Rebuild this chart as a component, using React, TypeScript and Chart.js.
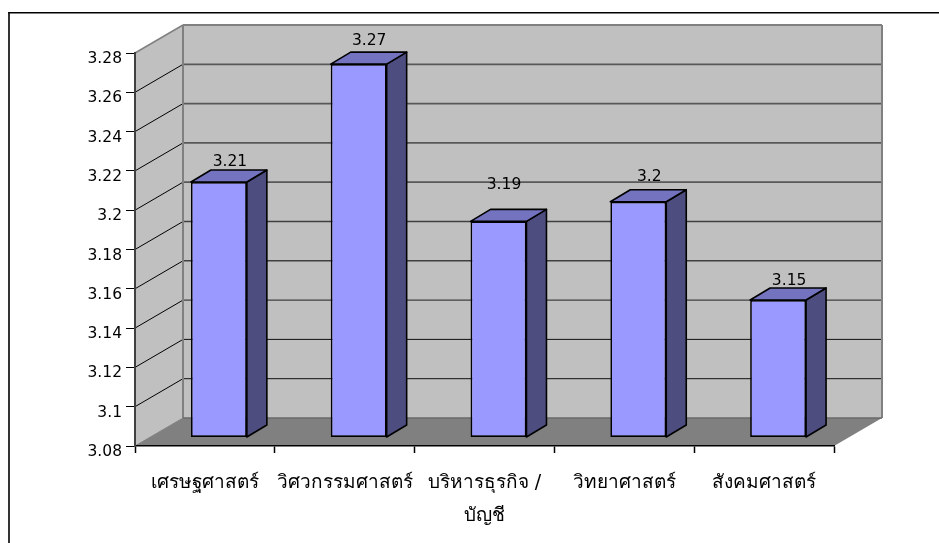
import React, { useEffect, useRef } from "react";
import { Chart, registerables } from "chart.js";

Chart.register(...registerables);

const categories: (string | string[])[] = [
  "เศรษฐศาสตร์",
  "วิศวกรรมศาสตร์",
  ["บริหารธุรกิจ /", "บัญชี"],
  "วิทยาศาสตร์",
  "สังคมศาสตร์",
];
const values = [3.21, 3.27, 3.19, 3.2, 3.15];
const yTicks = [3.08, 3.1, 3.12, 3.14, 3.16, 3.18, 3.2, 3.22, 3.24, 3.26, 3.28];

const labelShiftX = [25, 24.5, 19.5, 25, 25];
const labelShiftY = [-29, -32, -45, -33, -27];

const WALL_DX = 48;
const WALL_DY = 28;
const BAR_SHIFT_X = 14;
const BAR_SHIFT_Y = 8.5;
const BAR_DX = 20;
const BAR_DY = 12;
const FONT = "'DejaVu Sans', 'Liberation Sans', sans-serif";

function poly(ctx: CanvasRenderingContext2D, pts: number[][], fill?: string, stroke?: string, lw = 1) {
  ctx.beginPath();
  pts.forEach(([x, y], i) => (i ? ctx.lineTo(x, y) : ctx.moveTo(x, y)));
  ctx.closePath();
  if (fill) {
    ctx.fillStyle = fill;
    ctx.fill();
  }
  if (stroke) {
    ctx.strokeStyle = stroke;
    ctx.lineWidth = lw;
    ctx.lineJoin = "round";
    ctx.stroke();
  }
}

function line(ctx: CanvasRenderingContext2D, x1: number, y1: number, x2: number, y2: number, color: string, lw: number) {
  ctx.beginPath();
  ctx.moveTo(x1, y1);
  ctx.lineTo(x2, y2);
  ctx.strokeStyle = color;
  ctx.lineWidth = lw;
  ctx.stroke();
}

const box3d = {
  id: "box3d",
  beforeDraw(chart: any) {
    const { ctx, chartArea: a, scales } = chart;
    const { left: l, right: r, top: t, bottom: b } = a;
    ctx.save();
    // outer frame
    line(ctx, 8.3, 12.8, 939, 12.8, "#000", 1.6);
    line(ctx, 9, 12, 9, 543, "#000", 1.6);
    // left wall
    poly(ctx, [[l, t], [l + WALL_DX, t - WALL_DY], [l + WALL_DX, b - WALL_DY], [l, b]], "#C0C0C0");
    // back wall
    poly(ctx, [[l + WALL_DX, t - WALL_DY], [r + WALL_DX, t - WALL_DY], [r + WALL_DX, b - WALL_DY], [l + WALL_DX, b - WALL_DY]], "#C0C0C0");
    // floor
    poly(ctx, [[l, b], [r, b], [r + WALL_DX, b - WALL_DY], [l + WALL_DX, b - WALL_DY]], "#808080");
    // gridlines
    yTicks.forEach((v, i) => {
      const y = scales.y.getPixelForValue(v);
      if (i > 0 && i < yTicks.length - 1) {
        const heavy = i >= 6;
        const mid = i >= 3 && i < 6;
        line(ctx, l, y, l + WALL_DX, y - WALL_DY, "#000", 1);
        line(
          ctx,
          l + WALL_DX,
          y - WALL_DY,
          r + WALL_DX,
          y - WALL_DY,
          heavy ? "#585858" : mid ? "#404040" : "#101010",
          heavy ? 1.8 : mid ? 1.4 : 1
        );
      }
    });
    // wall edges
    const edge = "#808080";
    line(ctx, l, t, l + WALL_DX, t - WALL_DY, edge, 1.5);
    line(ctx, l + WALL_DX, t - WALL_DY, r + WALL_DX, t - WALL_DY, edge, 2);
    line(ctx, l + WALL_DX, t - WALL_DY, l + WALL_DX, b - WALL_DY, edge, 2);
    line(ctx, r + WALL_DX, t - WALL_DY, r + WALL_DX, b - WALL_DY, edge, 2);
    line(ctx, l + WALL_DX, b - WALL_DY, r + WALL_DX, b - WALL_DY, "#6a6a6a", 1.5);
    line(ctx, l, b, l + WALL_DX, b - WALL_DY, edge, 1);
    ctx.restore();
  },
  beforeDatasetsDraw(chart: any) {
    const { ctx } = chart;
    ctx.save();
    ctx.translate(BAR_SHIFT_X, -BAR_SHIFT_Y);
    chart.getDatasetMeta(0).data.forEach((el: any) => {
      const x1 = el.x - el.width / 2;
      const x2 = el.x + el.width / 2;
      poly(ctx, [[x2, el.y], [x2 + BAR_DX, el.y - BAR_DY], [x2 + BAR_DX, el.base - BAR_DY], [x2, el.base]], "#4D4D80", "#000", 1.6);
      poly(ctx, [[x1, el.y], [x1 + BAR_DX, el.y - BAR_DY], [x2 + BAR_DX, el.y - BAR_DY], [x2, el.y]], "#7373BF", "#000", 1.6);
    });
  },
  afterDatasetsDraw(chart: any) {
    const { ctx } = chart;
    ctx.restore();
    ctx.save();
    ctx.font = `15.5px ${FONT}`;
    ctx.fillStyle = "#000";
    ctx.textAlign = "center";
    ctx.textBaseline = "middle";
    chart.getDatasetMeta(0).data.forEach((el: any, i: number) => {
      ctx.fillText(String(values[i]), el.x + labelShiftX[i], el.y + labelShiftY[i]);
    });
    ctx.restore();
  },
};

export default function App() {
  const ref = useRef<HTMLCanvasElement>(null);
  useEffect(() => {
    const chart = new Chart(ref.current!, {
      type: "bar",
      data: {
        labels: categories as any,
        datasets: [
          {
            data: values,
            base: 3.08,
            backgroundColor: "#9999FF",
            borderColor: "#000",
            borderWidth: 1.7,
            borderSkipped: false,
            barPercentage: 0.4,
            categoryPercentage: 1,
            clip: false as any,
          },
        ],
      },
      options: {
        responsive: false,
        animation: false,
        devicePixelRatio: 1,
        layout: { padding: { left: 0, right: 105, top: 53, bottom: 0 } },
        plugins: { legend: { display: false }, tooltip: { enabled: false } },
        scales: {
          x: {
            offset: true,
            afterFit: (s: any) => {
              s.height = 97;
            },
            grid: {
              drawOnChartArea: false,
              tickLength: 7,
              tickColor: (c: any) => (c.index === categories.length ? "#808080" : "#000"),
              tickWidth: 1.5,
            },
            border: { color: "#000", width: 1.5 },
            ticks: {
              color: "#000",
              maxRotation: 0,
              autoSkip: false,
              padding: 14,
              font: { family: FONT, size: 19, lineHeight: 1.72 },
            },
          },
          y: {
            min: 3.08,
            max: 3.28,
            afterBuildTicks: (s: any) => {
              s.ticks = yTicks.map((value) => ({ value }));
            },
            afterFit: (s: any) => {
              s.width = 135;
            },
            grid: { drawOnChartArea: false, tickLength: 9, tickColor: "#000", tickWidth: 1 },
            border: { color: "#404040", width: 2 },
            ticks: {
              color: "#000",
              padding: 4,
              labelOffset: 6,
              font: { family: FONT, size: 15.5 },
              callback: (v: any) => String(parseFloat(Number(v).toFixed(2))),
            },
          },
        },
      },
      plugins: [box3d],
    });
    return () => chart.destroy();
  }, []);
  return (
    <div style={{ position: "fixed", left: 0, top: 0, width: 939, height: 543, background: "#fff" }}>
      <canvas ref={ref} width={939} height={543} style={{ display: "block" }} />
    </div>
  );
}
